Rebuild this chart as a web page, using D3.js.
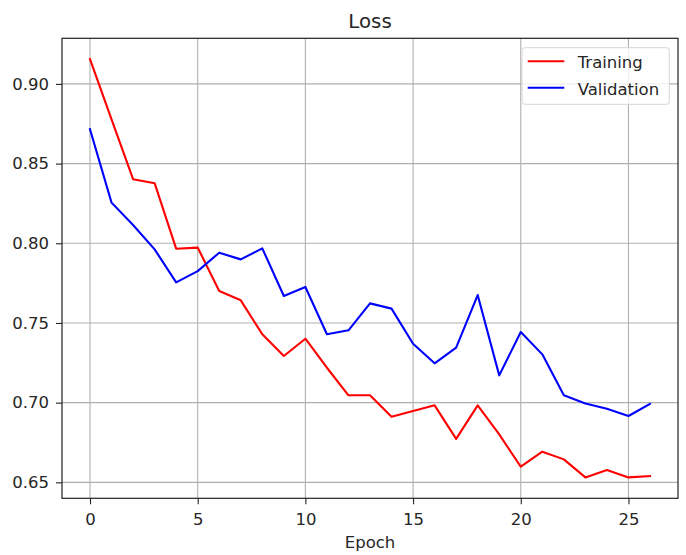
<!DOCTYPE html>
<html>
<head>
<meta charset="utf-8">
<script src="https://cdn.jsdelivr.net/npm/d3@7"></script>
<style>
  html, body { margin: 0; padding: 0; background: #fff; }
  svg { display: block; font-family: "DejaVu Sans", sans-serif; }
</style>
</head>
<body>
<svg id="chart" width="686" height="555"></svg>
<script>
// Loss per epoch
const epochs = d3.range(0, 27);
const trainingLoss = [0.9155, 0.8778, 0.8402, 0.8377, 0.7966, 0.7973, 0.7701, 0.7642, 0.7429, 0.7293,
  0.7401, 0.7219, 0.7046, 0.7046, 0.6912, 0.6947, 0.6983, 0.6773, 0.6983, 0.6801,
  0.6598, 0.6692, 0.6644, 0.6531, 0.6577, 0.6531, 0.6539];
const validationLoss = [0.8716, 0.8255, 0.8115, 0.7962, 0.7755, 0.7825, 0.7941, 0.7899, 0.7968, 0.7669,
  0.7726, 0.7429, 0.7454, 0.7623, 0.7590, 0.7370, 0.7247, 0.7345, 0.7675, 0.7171,
  0.7443, 0.7303, 0.7046, 0.6995, 0.6962, 0.6916, 0.6992];
const xTicks = [0, 5, 10, 15, 20, 25];
const yTicks = [0.65, 0.70, 0.75, 0.80, 0.85, 0.90];
const seriesNames = ["Training", "Validation"];
const seriesColors = ["#ff0000", "#0000ff"];

(function () {
  const svg = d3.select("#chart");
  const plotLeft = 62, plotRight = 678, plotTop = 38.3, plotBottom = 498.3;
  const fontSize = 16.5;
  const textColor = "#262626";

  // padded domains (5% margin around data)
  const xMin = d3.min(epochs), xMax = d3.max(epochs);
  const xPad = (xMax - xMin) * 0.05;
  const allY = trainingLoss.concat(validationLoss);
  const yMin = d3.min(allY), yMax = d3.max(allY);
  const yPad = (yMax - yMin) * 0.05;

  const x = d3.scaleLinear().domain([xMin - xPad, xMax + xPad]).range([plotLeft, plotRight]);
  const y = d3.scaleLinear().domain([yMin - yPad, yMax + yPad]).range([plotBottom, plotTop]);

  // grid
  const grid = svg.append("g");
  grid.selectAll("line.vx").data(xTicks).join("line")
    .attr("x1", d => x(d)).attr("x2", d => x(d))
    .attr("y1", plotTop).attr("y2", plotBottom)
    .attr("stroke", "#b0b0b0").attr("stroke-width", 1.1);
  grid.selectAll("line.hy").data(yTicks).join("line")
    .attr("x1", plotLeft).attr("x2", plotRight)
    .attr("y1", d => y(d)).attr("y2", d => y(d))
    .attr("stroke", "#b0b0b0").attr("stroke-width", 1.1);

  // lines
  const line = d3.line().x((d, i) => x(epochs[i])).y(d => y(d));
  [trainingLoss, validationLoss].forEach((vals, k) => {
    svg.append("path").datum(vals)
      .attr("d", line)
      .attr("fill", "none")
      .attr("stroke", seriesColors[k])
      .attr("stroke-width", 2.1)
      .attr("stroke-linejoin", "round")
      .attr("stroke-linecap", "square");
  });

  // axes
  const xAxis = d3.axisBottom(x).tickValues(xTicks).tickSize(6).tickPadding(8.5).tickFormat(d3.format("d"));
  const yAxis = d3.axisLeft(y).tickValues(yTicks).tickSize(6).tickPadding(7).tickFormat(d3.format(".2f"));

  const gx = svg.append("g").attr("transform", `translate(0,${plotBottom})`).call(xAxis);
  const gy = svg.append("g").attr("transform", `translate(${plotLeft},0)`).call(yAxis);
  [gx, gy].forEach(g => {
    g.select(".domain").remove();
    g.selectAll(".tick line").attr("stroke", "#222").attr("stroke-width", 1.1);
    g.selectAll(".tick text").attr("fill", textColor)
      .style("font-size", fontSize + "px").style("font-family", "DejaVu Sans, sans-serif");
  });

  // frame
  svg.append("rect")
    .attr("x", plotLeft).attr("y", plotTop)
    .attr("width", plotRight - plotLeft).attr("height", plotBottom - plotTop)
    .attr("fill", "none").attr("stroke", "#222").attr("stroke-width", 1.2);

  // title and axis label
  svg.append("text").attr("x", (plotLeft + plotRight) / 2).attr("y", 28)
    .attr("text-anchor", "middle").attr("fill", textColor)
    .style("font-size", "19.8px").text("Loss");
  svg.append("text").attr("x", (plotLeft + plotRight) / 2).attr("y", 548)
    .attr("text-anchor", "middle").attr("fill", textColor)
    .style("font-size", fontSize + "px").text("Epoch");

  // legend
  const legend = svg.append("g");
  legend.append("rect")
    .attr("x", 522).attr("y", 47.7).attr("width", 147.3).attr("height", 56.6)
    .attr("rx", 3).attr("ry", 3)
    .attr("fill", "#fff").attr("fill-opacity", 0.8)
    .attr("stroke", "#d6d6d6").attr("stroke-width", 1);
  seriesNames.forEach((name, i) => {
    const cy = 61.3 + i * 26.4;
    legend.append("line")
      .attr("x1", 527.7).attr("x2", 564.3).attr("y1", cy).attr("y2", cy)
      .attr("stroke", seriesColors[i]).attr("stroke-width", 2.1);
    legend.append("text").attr("x", 577.7).attr("y", cy + 7)
      .attr("fill", textColor).style("font-size", fontSize + "px").text(name);
  });
})();
</script>
</body>
</html>
